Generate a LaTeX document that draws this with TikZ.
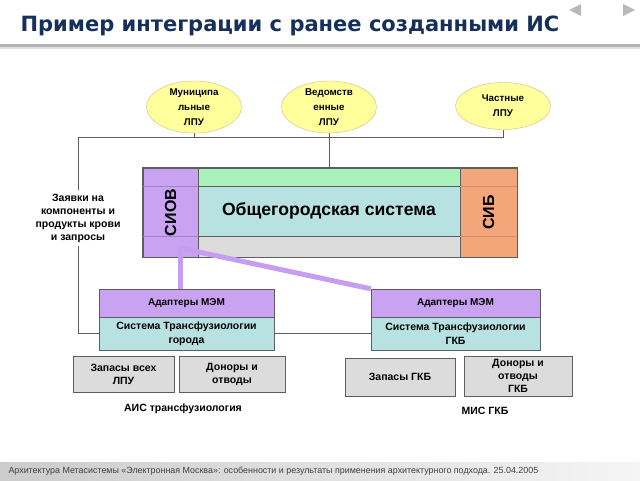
\documentclass[tikz,border=0pt]{standalone}
\usepackage{fontspec}
\setmainfont{Liberation Sans}
\newfontfamily\titlefont{DejaVu Sans}
\usetikzlibrary{shapes.geometric}
\definecolor{TitleClr}{HTML}{16305C}
\definecolor{SiovClr}{HTML}{C9A3F2}
\definecolor{SibClr}{HTML}{F2A679}
\definecolor{TopClr}{HTML}{AAF2BC}
\definecolor{CoreClr}{HTML}{B8E2E2}
\definecolor{BaseClr}{HTML}{DCDCDC}
\definecolor{LpuClr}{HTML}{FFFF9C}
\definecolor{LpuEdge}{HTML}{C8C080}
\definecolor{LineClr}{HTML}{5E5E5E}
\definecolor{LinkClr}{HTML}{C59EF2}

\begin{document}
\begin{tikzpicture}[x=1pt,y=-1pt,
  lpu/.style={ellipse,draw=LpuEdge,fill=LpuClr,minimum width=95pt,minimum height=47pt,inner sep=0pt,align=center,font=\fontsize{9.8}{15}\selectfont\bfseries},
  band/.style={rectangle,draw=LineClr,minimum width=262pt,inner sep=0pt},
  strip/.style={rectangle,draw=LineClr,minimum height=89pt,inner sep=0pt,font=\fontsize{16}{16}\selectfont\bfseries},
  adapter/.style={rectangle,draw=LineClr,fill=SiovClr,minimum height=28pt,inner sep=0pt,font=\fontsize{10}{12}\selectfont\bfseries},
  tfbox/.style={rectangle,draw=LineClr,fill=CoreClr,minimum height=33pt,inner sep=0pt,align=center,font=\fontsize{10.5}{14}\selectfont\bfseries},
  store/.style={rectangle,draw=LineClr,fill=BaseClr,inner sep=0pt,align=center,font=\fontsize{10.5}{13}\selectfont\bfseries},
  note/.style={align=center,font=\fontsize{10.5}{13}\selectfont\bfseries},
  conn/.style={draw=LineClr,line width=0.8pt},
  link/.style={draw=LinkClr,line width=5pt}]
\useasboundingbox (0,0) rectangle (640,480);

\node[anchor=base west,text=TitleClr,font=\titlefont\fontsize{21}{21}\selectfont\bfseries] (title) at (17,31) {Пример интеграции с ранее созданными ИС};
\fill[gray!60] (0,44) rectangle (640,47);
\fill[gray!25] (0,47) rectangle (640,49);
\fill[gray!55] (569,10) -- (581,4) -- (581,16) -- cycle;
\fill[gray!55] (623,4) -- (635,10) -- (623,16) -- cycle;

\node[lpu] (mun) at (194,107) {Муниципа\\льные\\ЛПУ};
\node[lpu] (ved) at (329,107) {Ведомств\\енные\\ЛПУ};
\node[lpu] (chast) at (503,106) {Частные\\ЛПУ};

\node[band,fill=TopClr,minimum height=18pt] (top) at (329,177) {};
\node[band,fill=CoreClr,minimum height=50pt,font=\fontsize{17.6}{17.6}\selectfont\bfseries] (core) at (329,211) {Общегородская система};
\node[band,fill=BaseClr,minimum height=21pt] (base) at (329,246.5) {};
\node[strip,fill=SiovClr,minimum width=55pt] (siov) at (170.5,212.5) {\rotatebox{90}{СИОВ}};
\node[strip,fill=SibClr,minimum width=57pt] (sib) at (488.5,212.5) {\rotatebox{90}{СИБ}};
\draw[SiovClr!80!black] (siov.west |- core.north) -- (siov.east |- core.north) (siov.west |- core.south) -- (siov.east |- core.south);
\draw[SibClr!85!black] (sib.west |- core.north) -- (sib.east |- core.north) (sib.west |- core.south) -- (sib.east |- core.south);
\draw[LineClr,line width=0.8pt] (siov.north west) rectangle (sib.south east);

\node[note] (req) at (78,218) {Заявки на\\компоненты и\\продукты крови\\и запросы};

\node[adapter,minimum width=175pt] (adl) at (186.5,303) {Адаптеры МЭМ};
\node[tfbox,minimum width=175pt] (trl) at (186.5,333.5) {Система Трансфузиологии\\города};
\node[adapter,minimum width=169pt] (adr) at (455.5,303) {Адаптеры МЭМ};
\node[tfbox,minimum width=169pt] (trr) at (455.5,333.5) {Система Трансфузиологии\\ГКБ};

\node[store,minimum width=101pt,minimum height=36pt] (zl) at (123.5,374) {Запасы всех\\ЛПУ};
\node[store,minimum width=106pt,minimum height=36pt] (dl) at (232,374) {Доноры и\\отводы};
\node[store,minimum width=110pt,minimum height=38pt] (zr) at (400,377) {Запасы ГКБ};
\node[store,minimum width=108pt,minimum height=40pt] (dr) at (518,376) {Доноры и\\отводы\\ГКБ};

\node[note] (ais) at (183,409) {АИС трансфузиология};
\node[note] (mis) at (485,411) {МИС ГКБ};

\coordinate (busl) at (78,137);
\coordinate (siob) at (180,248);
\draw[conn] (busl) -- (chast.south |- busl) -- (chast.south);
\draw[conn] (mun.south) -- (mun.south |- busl);
\draw[conn] (ved.south) -- (top.north);
\draw[conn] (busl) -- (req.north);
\draw[conn] (req.south) |- (trl.west);
\draw[conn] (trl.east) -- (trr.west);
\draw[link] (siob) -- (siob |- adl.north);
\draw[link] (siob) -- (adr.north west);

\shade[left color=gray!40,right color=gray!8] (0,462) rectangle (640,480);
\node[anchor=west,text=black!75,font=\fontsize{8.9}{9}\selectfont] (foot) at (5,471) {Архитектура Метасистемы «Электронная Москва»: особенности и результаты применения архитектурного подхода. 25.04.2005};
\end{tikzpicture}
\end{document}
